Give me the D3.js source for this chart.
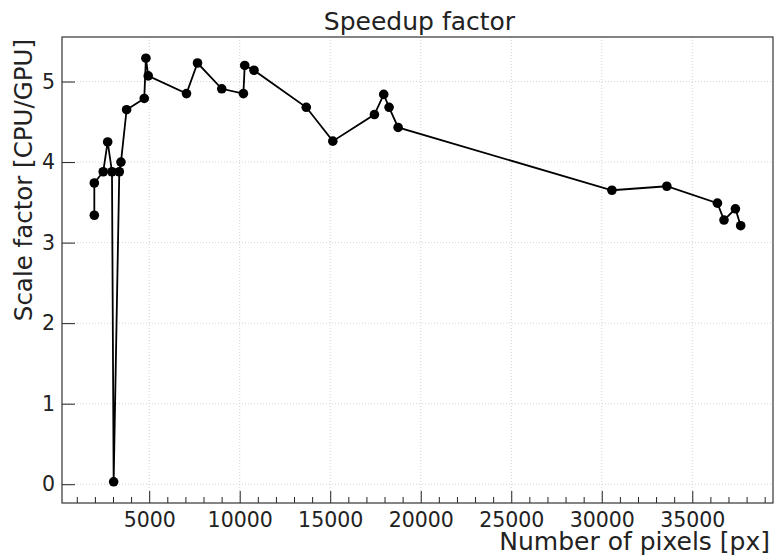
<!DOCTYPE html>
<html>
<head>
<meta charset="utf-8">
<script src="https://cdn.jsdelivr.net/npm/d3@7"></script>
<style>
    body { margin: 0; background: #fff; }
    svg text { font-family: "DejaVu Sans", sans-serif; fill: #222; }
</style>
</head>
<body>
<svg id="chart"></svg>
<script>
// values
const pixels = [1968, 1968, 2460, 2706, 2944, 3036, 3348, 3440, 3752, 4726, 4818, 4946,
    7060, 7668, 9008, 10204, 10276, 10788, 13677, 15143, 17442, 17955, 18251, 18749,
    30562, 33594, 36389, 36753, 37382, 37674];
const speedup = [3.34, 3.74, 3.88, 4.25, 3.88, 0.03, 3.88, 4.00, 4.65, 4.79, 5.29, 5.07,
    4.85, 5.23, 4.91, 4.85, 5.20, 5.14, 4.68, 4.26, 4.59, 4.84, 4.68, 4.43,
    3.65, 3.70, 3.49, 3.28, 3.42, 3.21];
const xTicks = [5000, 10000, 15000, 20000, 25000, 30000, 35000];
const yTicks = [0, 1, 2, 3, 4, 5];

const WIDTH = 774, HEIGHT = 557;
const PLOT_LEFT = 62, PLOT_RIGHT = 773, PLOT_TOP = 37, PLOT_BOTTOM = 503;
const TICK_FONT = 20.5, LABEL_FONT = 25;

const svg = d3.select('#chart')
    .attr('width', WIDTH)
    .attr('height', HEIGHT);

// matplotlib-like 5% margins around the data
const xExt = d3.extent(pixels), yExt = d3.extent(speedup);
const xPad = (xExt[1] - xExt[0]) * 0.05, yPad = (yExt[1] - yExt[0]) * 0.05;

const xScale = d3.scaleLinear()
    .domain([xExt[0] - xPad, xExt[1] + xPad])
    .range([PLOT_LEFT, PLOT_RIGHT]);

const yScale = d3.scaleLinear()
    .domain([yExt[0] - yPad, yExt[1] + yPad])
    .range([PLOT_BOTTOM, PLOT_TOP]);

// grid
const grid = svg.append('g');
grid.selectAll('.gx')
    .data(xTicks)
    .join('line')
    .attr('x1', d => xScale(d)).attr('x2', d => xScale(d))
    .attr('y1', PLOT_TOP).attr('y2', PLOT_BOTTOM)
    .attr('stroke', '#c8c8c8').attr('stroke-width', 0.8)
    .attr('stroke-dasharray', '1,2');
grid.selectAll('.gy')
    .data(yTicks)
    .join('line')
    .attr('x1', PLOT_LEFT).attr('x2', PLOT_RIGHT)
    .attr('y1', d => yScale(d)).attr('y2', d => yScale(d))
    .attr('stroke', '#c8c8c8').attr('stroke-width', 0.8)
    .attr('stroke-dasharray', '1,2');

// axes, ticks pointing inward
const minorTicks = d3.range(1000, 40000, 1000).filter(d => d % 5000 != 0 && xScale(d) > PLOT_LEFT);

svg.append('g')
    .attr('transform', `translate(0,${PLOT_BOTTOM})`)
    .call(d3.axisTop(xScale).tickValues(minorTicks).tickSize(6).tickFormat(''))
    .call(g => g.select('.domain').remove())
    .call(g => g.selectAll('line').attr('stroke', '#222'));

const xAxis = svg.append('g')
    .attr('transform', `translate(0,${PLOT_BOTTOM})`)
    .call(d3.axisBottom(xScale).tickValues(xTicks).tickSizeInner(-12).tickSizeOuter(0).tickPadding(9).tickFormat(d3.format('d')));
xAxis.select('.domain').remove();
xAxis.selectAll('line').attr('stroke', '#222');
xAxis.selectAll('text').attr('font-size', TICK_FONT).attr('fill', '#222')
    .style('font-family', '"DejaVu Sans", sans-serif');

const yAxis = svg.append('g')
    .attr('transform', `translate(${PLOT_LEFT},0)`)
    .call(d3.axisLeft(yScale).tickValues(yTicks).tickSizeInner(-13).tickSizeOuter(0).tickPadding(7).tickFormat(d3.format('d')));
yAxis.select('.domain').remove();
yAxis.selectAll('line').attr('stroke', '#222');
yAxis.selectAll('text').attr('font-size', TICK_FONT).attr('fill', '#222')
    .style('font-family', '"DejaVu Sans", sans-serif');

// frame
svg.append('rect')
    .attr('x', PLOT_LEFT).attr('y', PLOT_TOP)
    .attr('width', PLOT_RIGHT - PLOT_LEFT).attr('height', PLOT_BOTTOM - PLOT_TOP)
    .attr('fill', 'none').attr('stroke', '#333').attr('stroke-width', 1.2);

// series
const pts = pixels.map((p, i) => [p, speedup[i]]);
svg.append('path')
    .datum(pts)
    .attr('fill', 'none')
    .attr('stroke', '#000')
    .attr('stroke-width', 1.8)
    .attr('d', d3.line().x(d => xScale(d[0])).y(d => yScale(d[1])));

svg.append('g')
    .selectAll('circle')
    .data(pts)
    .join('circle')
    .attr('cx', d => xScale(d[0]))
    .attr('cy', d => yScale(d[1]))
    .attr('r', 4.8)
    .attr('fill', '#000');

// labels
svg.append('text')
    .attr('x', (PLOT_LEFT + PLOT_RIGHT) / 2 + 2)
    .attr('y', 30)
    .attr('text-anchor', 'middle')
    .attr('font-size', LABEL_FONT)
    .text('Speedup factor');

svg.append('text')
    .attr('x', PLOT_RIGHT - 3)
    .attr('y', 550)
    .attr('text-anchor', 'end')
    .attr('font-size', LABEL_FONT)
    .text('Number of pixels [px]');

svg.append('text')
    .attr('transform', `translate(32, ${PLOT_TOP + 2}) rotate(-90)`)
    .attr('text-anchor', 'end')
    .attr('font-size', 24.5)
    .text('Scale factor [CPU/GPU]');
</script>
</body>
</html>
